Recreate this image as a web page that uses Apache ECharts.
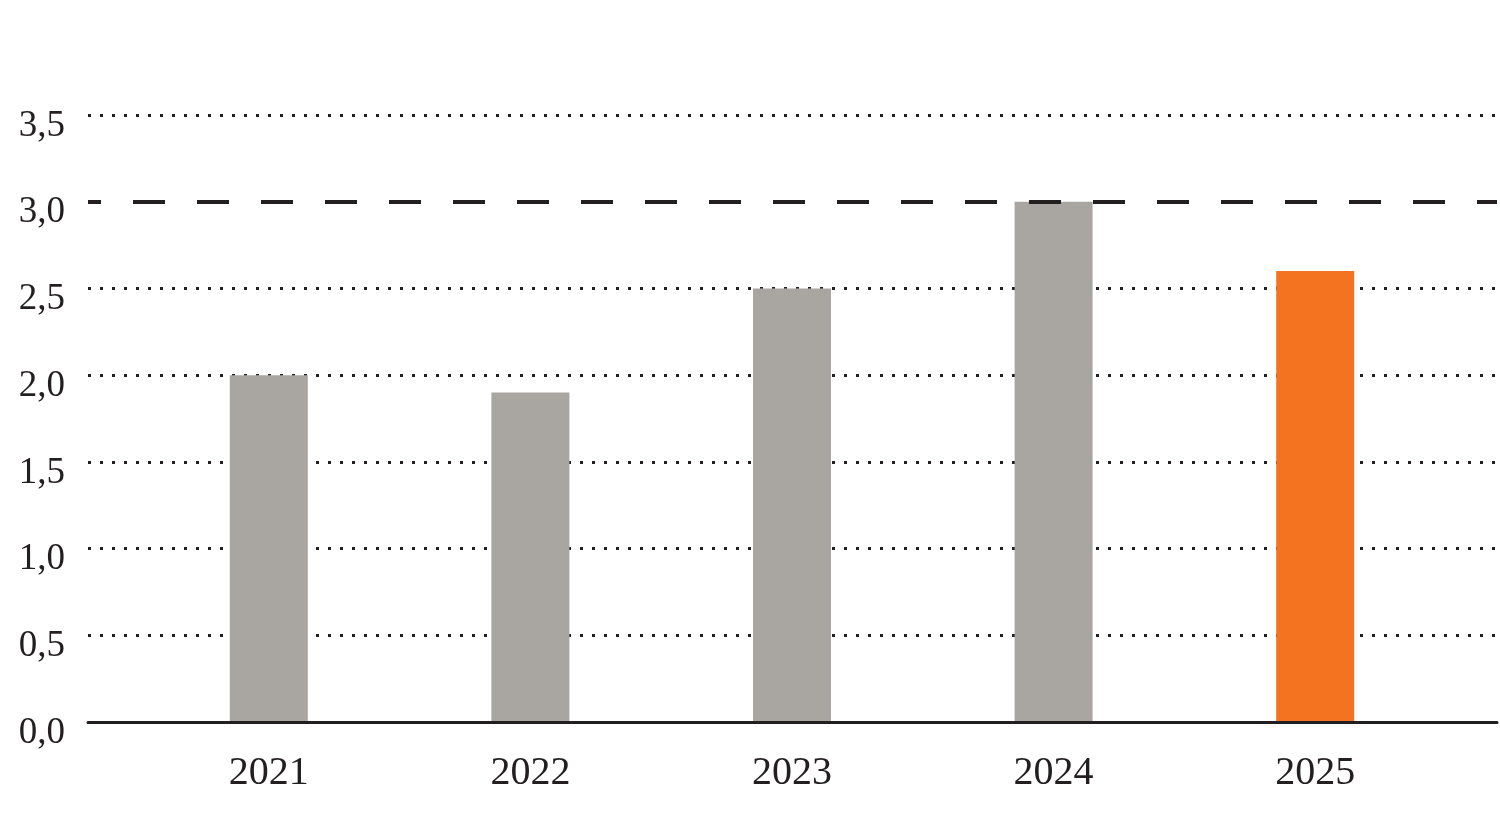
<!DOCTYPE html>
<html>
<head>
<meta charset="utf-8">
<script src="https://cdn.jsdelivr.net/npm/echarts@6/dist/echarts.min.js"></script>
<style>html,body{margin:0;padding:0;background:#fff;}#c{width:1500px;height:821px;}</style>
</head>
<body>
<div id="c"></div>
<script>
const categories = ['2021', '2022', '2023', '2024', '2025'];
const values = [2.0, 1.9, 2.5, 3.0, 2.6];
const barColors = ['#A9A6A1', '#A9A6A1', '#A9A6A1', '#A9A6A1', '#F37321'];
const yTicks = [0, 0.5, 1.0, 1.5, 2.0, 2.5, 3.0, 3.5];
const dottedLevels = [0.5, 1.0, 1.5, 2.0, 2.5, 3.5];
const dashedLevel = 3.0;

const chart = echarts.init(document.getElementById('c'), null, {renderer: 'canvas'});
const textColor = '#231F20';
const fontFamily = '"Liberation Serif", "DejaVu Serif", serif';

chart.setOption({
  animation: false,
  grid: [
    {left: 88, right: 3, top: 115, bottom: 99},
    {left: 138, right: 54, top: 115, bottom: 99}
  ],
  xAxis: [
    {
      gridIndex: 0, type: 'value', min: 0, max: 1, z: 6,
      axisLine: {show: true, lineStyle: {color: '#231F20', width: 3}},
      axisTick: {show: false}, axisLabel: {show: false}, splitLine: {show: false}
    },
    {
      gridIndex: 1, type: 'category', data: categories,
      axisLine: {show: false}, axisTick: {show: false},
      axisLabel: {color: textColor, fontFamily: fontFamily, fontSize: 40, margin: 31}
    }
  ],
  yAxis: [
    {
      gridIndex: 0, type: 'value', min: 0, max: 3.5, interval: 0.5,
      axisLine: {show: false}, axisTick: {show: false},
      splitLine: {show: false},
      axisLabel: {
        color: textColor, fontFamily: fontFamily, fontSize: 37, margin: 23,
        verticalAlign: 'top', lineHeight: 22,
        formatter: v => v.toFixed(1).replace('.', ',')
      }
    },
    {
      gridIndex: 1, type: 'value', min: 0, max: 3.5, interval: 0.5, show: false,
      splitLine: {show: false}
    }
  ],
  series: [
    {
      type: 'line', xAxisIndex: 0, yAxisIndex: 0, data: [], z: 1,
      markLine: {
        z: 1, silent: true, symbol: 'none', label: {show: false},
        lineStyle: {color: '#231F20', width: 3, type: [3, 9]},
        data: dottedLevels.map(v => ({yAxis: v}))
      }
    },
    {
      type: 'bar', xAxisIndex: 1, yAxisIndex: 1, z: 2, barWidth: 78,
      data: values.map((v, i) => ({value: v, itemStyle: {color: barColors[i]}}))
    },
    {
      type: 'line', xAxisIndex: 0, yAxisIndex: 0, data: [], z: 5,
      markLine: {
        z: 5, silent: true, symbol: 'none', label: {show: false},
        lineStyle: {color: '#231F20', width: 4, type: [32, 32], dashOffset: 19},
        data: [{yAxis: dashedLevel}]
      }
    }
  ]
});
</script>
</body>
</html>
